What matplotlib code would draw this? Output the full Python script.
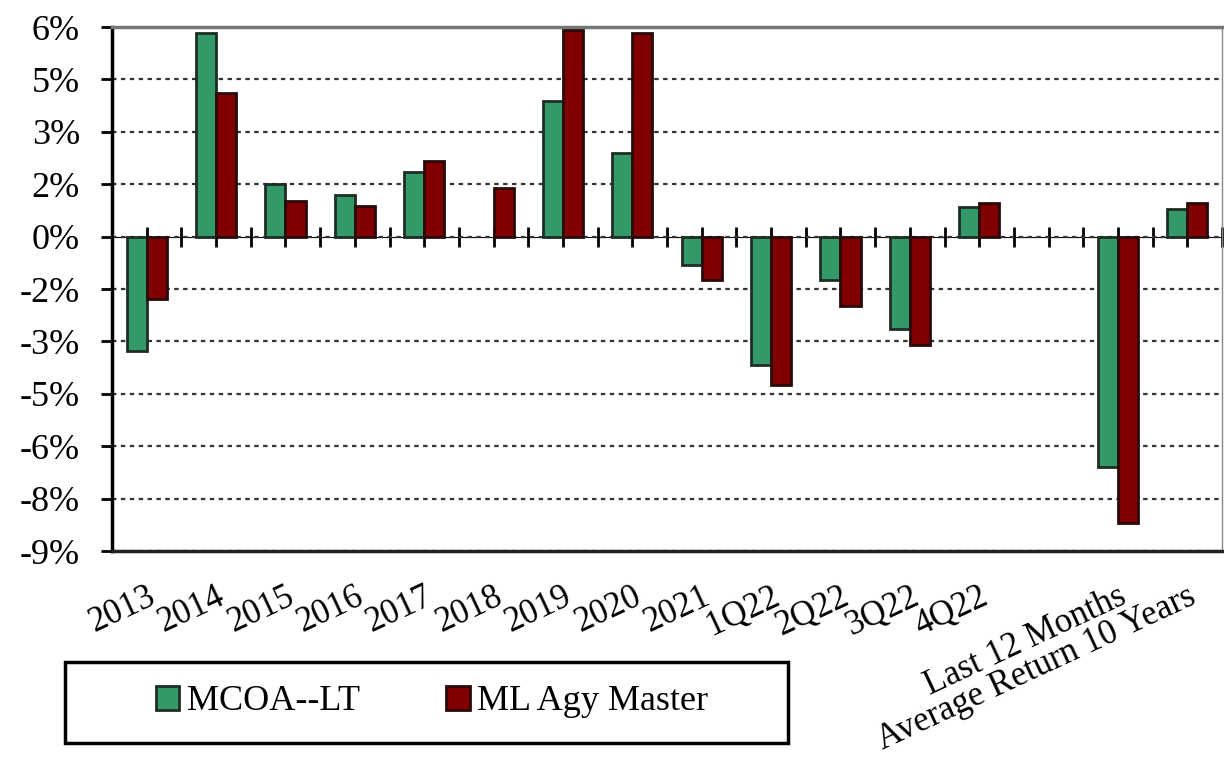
import matplotlib
matplotlib.use("Agg")
import matplotlib.pyplot as plt
import numpy as np
from matplotlib.patches import Rectangle

categories = ['2013', '2014', '2015', '2016', '2017', '2018', '2019', '2020', '2021',
              '1Q22', '2Q22', '3Q22', '4Q22', '', 'Last 12 Months', 'Average Return 10 Years']
mcoa = [-3.27, 5.82, 1.52, 1.2, 1.86, np.nan, 3.87, 2.38, -0.8,
        -3.67, -1.23, -2.64, 0.86, np.nan, -6.59, 0.8]
ml_agy = [-1.8, 4.1, 1.03, 0.89, 2.15, 1.38, 5.9, 5.82, -1.23,
          -4.24, -1.98, -3.09, 0.97, np.nan, -8.19, 0.97]
yticks = [6, 4.5, 3, 1.5, 0, -1.5, -3, -4.5, -6, -7.5, -9]
ytick_labels = ['6%', '5%', '3%', '2%', '0%', '-2%', '-3%', '-5%', '-6%', '-8%', '-9%']

plt.rcParams['font.family'] = ['Liberation Serif', 'DejaVu Serif']
fs = 26

fig = plt.figure(figsize=(12.24, 7.62), dpi=100)
ax = fig.add_axes([112/1224, 1-551/762, (1222-112)/1224, (551-27)/762])

x = np.arange(len(categories))
w = 0.29
ax.bar(x - w/2, mcoa, w, color='#339966', edgecolor='#1e2e24', linewidth=2,
       label='MCOA--LT', zorder=3)
ax.bar(x + w/2, ml_agy, w, color='#800000', edgecolor='#2a0a0a', linewidth=2,
       label='ML Agy Master', zorder=3)

ax.set_xlim(-0.5, len(categories) - 0.5)
ax.set_ylim(-9, 6)
ax.set_yticks(yticks)
ax.set_yticklabels(ytick_labels, fontsize=fs)
ax.tick_params(axis='y', direction='out', length=8, width=2, pad=15)
ax.yaxis.grid(True, color='#333333', linestyle=(0, (2, 2)), linewidth=1.6, zorder=0)

ax.set_xticks(x)
ax.set_xticklabels(categories, fontsize=25, rotation=25, ha='right',
                   rotation_mode='anchor', va='top')
ax.tick_params(axis='x', length=0, pad=21)

ax.spines['left'].set_linewidth(2.5)
ax.spines['left'].set_color('black')
ax.spines['bottom'].set_linewidth(2.5)
ax.spines['bottom'].set_color('#222222')
ax.spines['top'].set_linewidth(2.5)
ax.spines['top'].set_color('#777777')
ax.spines['right'].set_linewidth(1)
ax.spines['right'].set_color('#888888')

# zero line with ticks at category centers and boundaries
sec = ax.secondary_xaxis(0.6)
sec.set_xticks(np.arange(-0.5, len(categories), 1.0))
sec.set_xticks(x, minor=True)
sec.set_xticklabels([])
sec.tick_params(which='both', direction='inout', length=14, width=2)
sec.spines['bottom'].set_linewidth(2.5)
sec.spines['bottom'].set_zorder(4)

fig.patches.append(Rectangle((65/1224, 1-743/762), (788-65)/1224, (743-662)/762,
                             transform=fig.transFigure, fill=False,
                             edgecolor='black', linewidth=2.5))
fig.legend(loc='center', bbox_to_anchor=(432/1224, 1-702/762), ncol=2,
           frameon=False, fontsize=fs, handlelength=0.65, handleheight=0.65,
           handletextpad=0.2, columnspacing=2.4)

fig.savefig('out.png', dpi=100)
